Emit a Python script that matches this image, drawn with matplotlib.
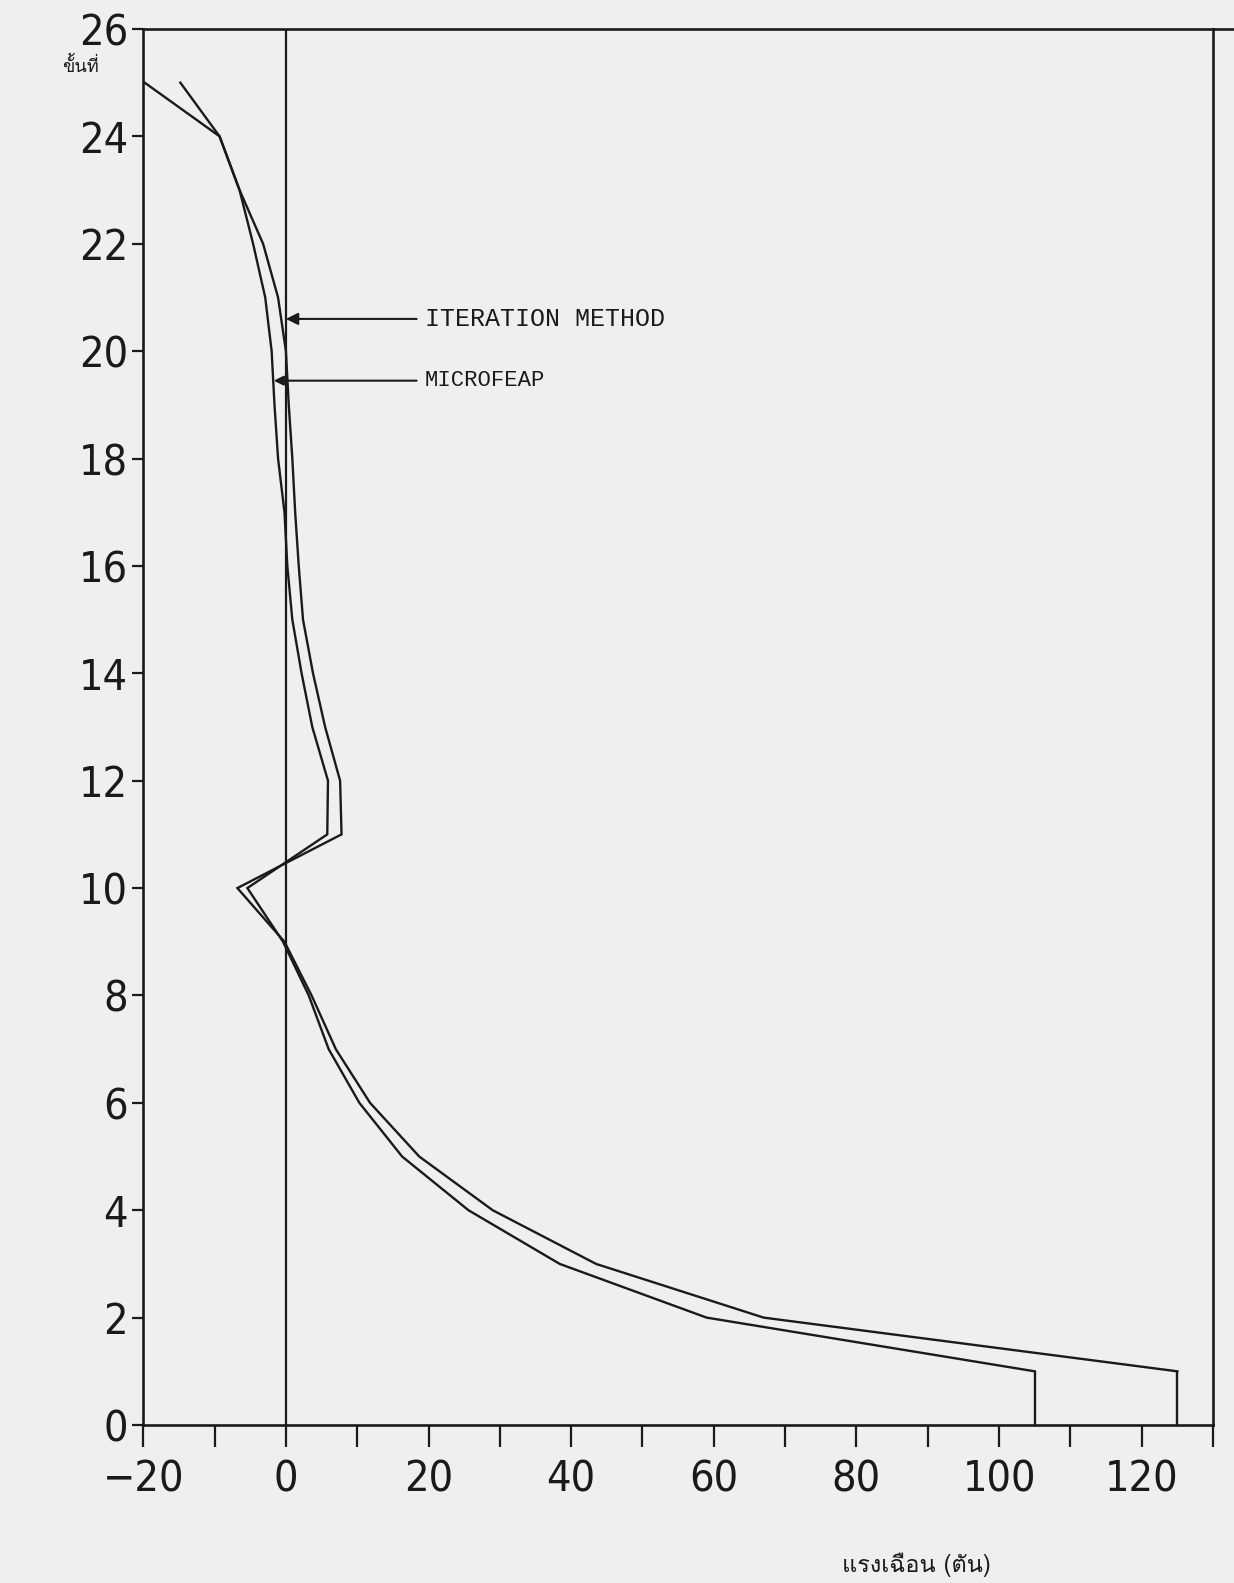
"""
แรงเฉือนแต่ละชั้น — ITERATION METHOD vs MICROFEAP
(สแกนกราฟพล็อตเตอร์เก่า ทำใหม่ด้วย matplotlib)
"""
import matplotlib
matplotlib.use("Agg")
import matplotlib.pyplot as plt
from matplotlib import font_manager as fm
from matplotlib.ft2font import FT2Font

# ─── data: ชั้นที่ 1..25, แรงเฉือน (ตัน) อ่านจากรูป ───
stories = list(range(1, 26))
iteration = [125, 67, 43.5, 29, 18.7, 11.8, 7.0, 3.6, -0.2, -6.8,
             7.8, 7.6, 5.5, 3.8, 2.4, 1.8, 1.3, 0.9, 0.4, 0.0,
             -1.1, -3.2, -6.5, -9.3, -14.8]
microfeap = [105, 59, 38.4, 25.6, 16.3, 10.3, 6.0, 3.2, -0.4, -5.4,
             5.8, 5.9, 3.7, 2.2, 0.9, 0.2, -0.2, -1.1, -1.6, -2.0,
             -2.9, -4.6, -6.5, -9.3, -19.8]

x_ticks = list(range(-20, 131, 10))
x_labels = [str(t) if t % 20 == 0 else "" for t in x_ticks]
x_labels = [s.replace("-", "\u2212") for s in x_labels]
y_ticks = list(range(0, 27, 2))

INK = "#1a1a1a"
PAPER = "#efefef"


def thai_family():
    # หา font ที่มีอักษรไทย (ก = U+0E01) ในเครื่อง
    for f in fm.fontManager.ttflist:
        try:
            if FT2Font(f.fname).get_char_index(0x0E01):
                return f.name
        except Exception:
            pass
    return "DejaVu Sans"


def narrow_font(size):
    # ตัวเลขแกนในต้นฉบับเป็นตัวผอมสูง → หา font แบบ Narrow/Condensed ก่อน
    for f in fm.fontManager.ttflist:
        cond = ("Narrow" in f.name or "Condensed" in f.name
                or str(f.stretch).endswith("condensed"))
        if cond and f.style == "normal" and f.weight in (300, 400, "normal", "light", "regular"):
            return fm.FontProperties(fname=f.fname, size=size)
    return fm.FontProperties(family=["Roboto", "DejaVu Sans"], weight="light", size=size)


THAI = [thai_family(), "DejaVu Sans"]
MONO = ["Liberation Mono", "DejaVu Sans Mono"]
tick_fp = narrow_font(31)

fig = plt.figure(figsize=(12.34, 15.83), dpi=100, facecolor=PAPER)
ax = fig.add_axes([0.1161, 0.0998, 0.8669, 0.8819])
ax.set_facecolor(PAPER)

# เส้นกราฟ 2 วิธี + เส้นดิ่งลงแกนที่ชั้น 1
for xs in (iteration, microfeap):
    ax.plot(xs, stories, color=INK, lw=1.7, solid_joinstyle="miter")
    ax.vlines(xs[0], 0, stories[0], color=INK, lw=1.7)

ax.axvline(0, color=INK, lw=1.6)

ax.set_xlim(-20, 130)
ax.set_ylim(0, 26)
for s in ax.spines.values():
    s.set_color(INK)
    s.set_linewidth(1.9)
# เส้นบนยาวเลยกรอบออกไปทางขวา
ax.plot([130, 134], [26, 26], color=INK, lw=1.9, clip_on=False)

ax.set_xticks(x_ticks)
ax.set_xticklabels(x_labels, fontproperties=tick_fp)
ax.set_yticks(y_ticks)
ax.set_yticklabels([str(t) for t in y_ticks], fontproperties=tick_fp)
ax.tick_params(axis="x", direction="out", length=16, width=1.6, pad=8, colors=INK)
ax.tick_params(axis="y", direction="out", length=8, width=1.6, pad=3, colors=INK)

# ป้ายชี้เส้น
ax.annotate("ITERATION METHOD", xy=(0.0, 20.6), xytext=(19.5, 20.6),
            va="center", ha="left", family=MONO, fontsize=18, color=INK,
            arrowprops=dict(arrowstyle="-|>", color=INK, lw=1.5,
                            mutation_scale=18, shrinkA=4, shrinkB=0))
ax.annotate("MICROFEAP", xy=(-1.7, 19.45), xytext=(19.5, 19.45),
            va="center", ha="left", family=MONO, fontsize=16, color=INK,
            arrowprops=dict(arrowstyle="-|>", color=INK, lw=1.5,
                            mutation_scale=14, shrinkA=4, shrinkB=0))

fig.text(0.05, 0.958, "ขั้นที่", family=THAI, fontsize=13, color=INK,
         ha="left", va="center")
fig.text(0.682, 0.004, "แรงเฉือน (ตัน)", family=THAI, fontsize=17, color=INK,
         ha="left", va="bottom")

fig.savefig("out.png", dpi=100, facecolor=PAPER)
plt.close(fig)
